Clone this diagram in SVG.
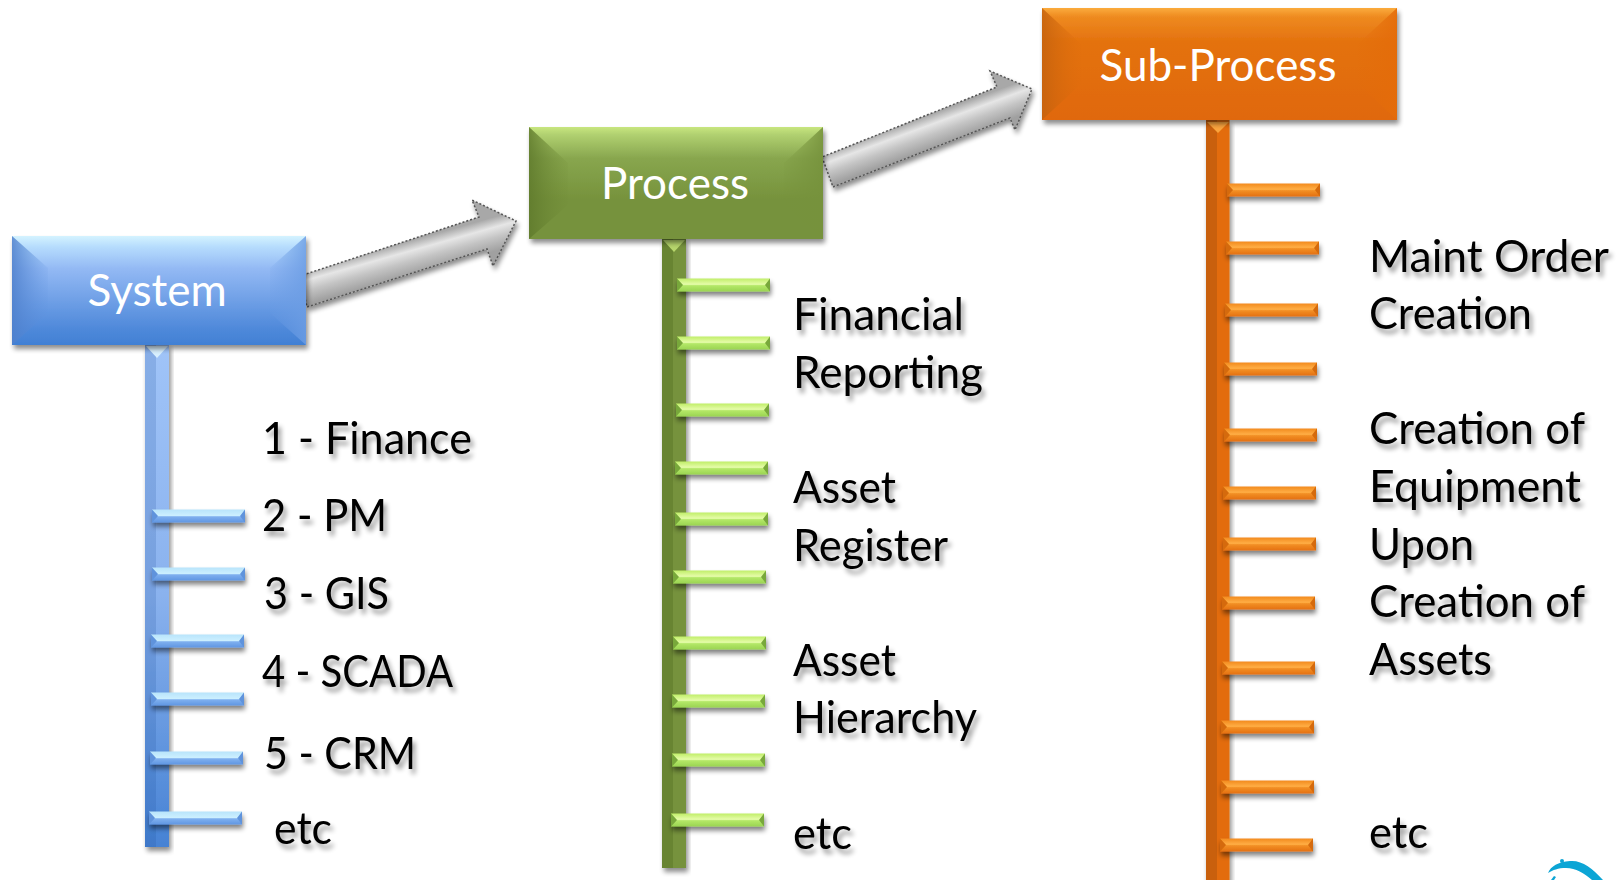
<svg xmlns="http://www.w3.org/2000/svg" width="1621" height="880" viewBox="0 0 1621 880">
<style>
.lbl{font-family:"Lato","Open Sans","Liberation Sans",sans-serif;font-size:44px;fill:#000;filter:url(#ts)}
.ttl{font-family:"Lato","Open Sans","Liberation Sans",sans-serif;font-size:44px;fill:#fff;text-anchor:middle}
.arrow{stroke:#555;stroke-width:1.5;stroke-dasharray:2 2;filter:url(#ds)}
.sh{filter:url(#ds)}
</style>
<defs>
<filter id="ds" x="-20%" y="-20%" width="140%" height="150%"><feGaussianBlur in="SourceAlpha" stdDeviation="2.5"/><feOffset dx="2" dy="4"/><feComponentTransfer><feFuncA type="linear" slope="0.45"/></feComponentTransfer><feMerge><feMergeNode/><feMergeNode in="SourceGraphic"/></feMerge></filter>
<filter id="dt" x="-30%" y="-100%" width="160%" height="350%"><feGaussianBlur in="SourceAlpha" stdDeviation="2.5"/><feOffset dx="1" dy="4"/><feComponentTransfer><feFuncA type="linear" slope="0.5"/></feComponentTransfer><feMerge><feMergeNode/><feMergeNode in="SourceGraphic"/></feMerge></filter>
<filter id="ts" x="-10%" y="-20%" width="125%" height="150%"><feGaussianBlur in="SourceAlpha" stdDeviation="2.5"/><feOffset dx="3" dy="5"/><feComponentTransfer><feFuncA type="linear" slope="0.4"/></feComponentTransfer><feMerge><feMergeNode/><feMergeNode in="SourceGraphic"/></feMerge></filter>
<linearGradient id="gArrow1" gradientUnits="userSpaceOnUse" x1="391" y1="246" x2="400" y2="278"><stop offset="0" stop-color="#a8a8a8"/><stop offset=".3" stop-color="#e6e6e6"/><stop offset=".6" stop-color="#c4c4c4"/><stop offset="1" stop-color="#a0a0a0"/></linearGradient>
<linearGradient id="gArrow2" gradientUnits="userSpaceOnUse" x1="910" y1="122" x2="921" y2="152"><stop offset="0" stop-color="#a8a8a8"/><stop offset=".3" stop-color="#e6e6e6"/><stop offset=".6" stop-color="#c4c4c4"/><stop offset="1" stop-color="#a0a0a0"/></linearGradient>
<linearGradient id="bBlue" x1="0" y1="0" x2="0" y2="1"><stop offset="0" stop-color="#d4f3ff"/><stop offset=".1" stop-color="#b6dcfd"/><stop offset=".3" stop-color="#93b9f4"/><stop offset=".85" stop-color="#4f89da"/><stop offset="1" stop-color="#4180d4"/></linearGradient>
<linearGradient id="bGreen" x1="0" y1="0" x2="0" y2="1"><stop offset="0" stop-color="#c8e67f"/><stop offset=".07" stop-color="#b0d070"/><stop offset=".28" stop-color="#88a64e"/><stop offset=".65" stop-color="#76923c"/><stop offset="1" stop-color="#76923c"/></linearGradient>
<linearGradient id="bOrange" x1="0" y1="0" x2="0" y2="1"><stop offset="0" stop-color="#fbab3c"/><stop offset=".08" stop-color="#ee8a20"/><stop offset=".3" stop-color="#e4720f"/><stop offset="1" stop-color="#e0680a"/></linearGradient>
<linearGradient id="fBlue" x1="0" x2="1" y1="0" y2="0"><stop offset="0" stop-color="#4f80cc" stop-opacity=".85"/><stop offset="1" stop-color="#5f92de" stop-opacity=".1"/></linearGradient>
<linearGradient id="fGreen" x1="0" x2="1" y1="0" y2="0"><stop offset="0" stop-color="#5f7a2c" stop-opacity=".85"/><stop offset="1" stop-color="#6f8a36" stop-opacity=".1"/></linearGradient>
<linearGradient id="fOrange" x1="0" x2="1" y1="0" y2="0"><stop offset="0" stop-color="#c4620e" stop-opacity=".85"/><stop offset="1" stop-color="#dc6c0c" stop-opacity=".1"/></linearGradient>
<linearGradient id="rBlue" x1="1" x2="0" y1="0" y2="0"><stop offset="0" stop-color="#6c9de4" stop-opacity=".85"/><stop offset="1" stop-color="#6c9de4" stop-opacity=".1"/></linearGradient>
<linearGradient id="rGreen" x1="1" x2="0" y1="0" y2="0"><stop offset="0" stop-color="#76923c" stop-opacity=".9"/><stop offset="1" stop-color="#76923c" stop-opacity=".1"/></linearGradient>
<linearGradient id="rOrange" x1="1" x2="0" y1="0" y2="0"><stop offset="0" stop-color="#e46c0a" stop-opacity=".9"/><stop offset="1" stop-color="#e46c0a" stop-opacity=".1"/></linearGradient>
<linearGradient id="sBlue" x1="0" y1="0" x2="0" y2="1"><stop offset="0" stop-color="#a0c4f8"/><stop offset=".5" stop-color="#8ab2ee"/><stop offset="1" stop-color="#4682d4"/></linearGradient>
<linearGradient id="tBlue" x1="0" y1="0" x2="0" y2="1"><stop offset="0" stop-color="#b8e4fb"/><stop offset=".5" stop-color="#cdf0ff"/><stop offset=".55" stop-color="#7fb0ef"/><stop offset="1" stop-color="#6096e2"/></linearGradient>
<linearGradient id="tGreen" x1="0" y1="0" x2="0" y2="1"><stop offset="0" stop-color="#c0ee68"/><stop offset=".45" stop-color="#e6fcaa"/><stop offset=".55" stop-color="#b4e868"/><stop offset="1" stop-color="#9ad452"/></linearGradient>
<linearGradient id="tOrange" x1="0" y1="0" x2="0" y2="1"><stop offset="0" stop-color="#f28a1e"/><stop offset=".45" stop-color="#ffae45"/><stop offset=".55" stop-color="#f28f25"/><stop offset="1" stop-color="#e4700f"/></linearGradient>
<g id="tb"><rect x="0" y="-6.5" width="93" height="13" fill="url(#tBlue)"/><path d="M0-6.5 6 0 0 6.5ZM93-6.5 88 0 93 6.5Z" fill="#5f93dc"/></g>
<g id="tg"><rect x="0" y="-6.5" width="93" height="13" fill="url(#tGreen)"/><path d="M0-6.5 6 0 0 6.5ZM93-6.5 88 0 93 6.5Z" fill="#78a83a"/></g>
<g id="to"><rect x="0" y="-6.5" width="93" height="13" fill="url(#tOrange)"/><path d="M0-6.5 6 0 0 6.5ZM93-6.5 88 0 93 6.5Z" fill="#d56a0c"/></g>
</defs>
<rect width="1621" height="880" fill="#fff"/>
<g id="connectors">
<polygon class="arrow" fill="url(#gArrow1)" points="300,276 307,307 487,249 493,266 516,221 472,200 479,217"/>
<polygon class="arrow" fill="url(#gArrow2)" points="822,157 833,187 1010,118 1015,130 1032,89 990,71 997,87"/>
<g id="ladder-system">
<g class="sh"><rect x="145" y="344" width="24" height="503" fill="url(#sBlue)"/><rect x="145" y="344" width="11" height="503" fill="#1d4f9c" opacity=".18"/><polygon points="146,346 168,346 157,358" fill="#d8effe"/></g>
<g filter="url(#dt)"><use href="#tb" x="152" y="516"/><use href="#tb" x="152" y="574"/><use href="#tb" x="151" y="641"/><use href="#tb" x="151" y="699"/><use href="#tb" x="150" y="758"/><use href="#tb" x="149" y="818"/></g>
</g>
<g id="ladder-process">
<g class="sh"><rect x="662" y="238" width="24" height="630" fill="#76923c"/><rect x="662" y="238" width="11" height="630" fill="#3f5a18" opacity=".25"/><polygon points="663,240 685,240 674,252" fill="#b6d66c"/></g>
<g filter="url(#dt)"><use href="#tg" x="677" y="285"/><use href="#tg" x="677" y="343"/><use href="#tg" x="676" y="410"/><use href="#tg" x="675" y="468"/><use href="#tg" x="675" y="519"/><use href="#tg" x="673" y="577"/><use href="#tg" x="673" y="643"/><use href="#tg" x="672" y="701"/><use href="#tg" x="672" y="760"/><use href="#tg" x="671" y="820"/></g>
</g>
<g id="ladder-subprocess">
<g class="sh"><rect x="1206" y="120" width="23.5" height="770" fill="#e36c0a"/><rect x="1206" y="120" width="11" height="770" fill="#7a3a05" opacity=".25"/><polygon points="1207,122 1229,122 1218,133" fill="#f9a33c"/></g>
<g filter="url(#dt)"><use href="#to" x="1227" y="190"/><use href="#to" x="1226" y="248"/><use href="#to" x="1225" y="310"/><use href="#to" x="1224" y="369"/><use href="#to" x="1224" y="435"/><use href="#to" x="1223" y="493"/><use href="#to" x="1223" y="544"/><use href="#to" x="1222" y="603"/><use href="#to" x="1222" y="668"/><use href="#to" x="1221" y="727"/><use href="#to" x="1221" y="787"/><use href="#to" x="1220" y="845"/></g>
</g>
</g>
<g id="system">
<g class="sh"><rect x="12" y="236" width="294" height="109" fill="url(#bBlue)"/></g>
<polygon points="12,236 48,268 48,313 12,345" fill="url(#fBlue)"/><polygon points="306,236 270,268 270,313 306,345" fill="url(#rBlue)"/>
<text class="ttl" x="157" y="306">System</text>
</g>
<g id="process">
<g class="sh"><rect x="529" y="127" width="294" height="112" fill="url(#bGreen)"/></g>
<polygon points="529,127 568,163 568,205 529,239" fill="url(#fGreen)"/><polygon points="823,127 784,163 784,205 823,239" fill="url(#rGreen)"/>
<text class="ttl" x="675" y="199">Process</text>
</g>
<g id="subprocess">
<g class="sh"><rect x="1042" y="8" width="355" height="112" fill="url(#bOrange)"/></g>
<polygon points="1042,8 1081,44 1081,84 1042,120" fill="url(#fOrange)"/><polygon points="1397,8 1358,44 1358,84 1397,120" fill="url(#rOrange)"/>
<text class="ttl" x="1218" y="81">Sub-Process</text>
</g>
<g id="labels-system">
<text class="lbl" x="262" y="454" textLength="210" lengthAdjust="spacingAndGlyphs">1 - Finance</text>
<text class="lbl" x="262" y="531" textLength="125" lengthAdjust="spacingAndGlyphs">2 - PM</text>
<text class="lbl" x="264" y="609" textLength="125" lengthAdjust="spacingAndGlyphs">3 - GIS</text>
<text class="lbl" x="262" y="687" textLength="191" lengthAdjust="spacingAndGlyphs">4 - SCADA</text>
<text class="lbl" x="264" y="769" textLength="152" lengthAdjust="spacingAndGlyphs">5 - CRM</text>
<text class="lbl" x="274" y="844" textLength="58" lengthAdjust="spacingAndGlyphs">etc</text>
</g>
<g id="labels-process">
<text class="lbl" x="793" y="330" textLength="171" lengthAdjust="spacingAndGlyphs">Financial</text>
<text class="lbl" x="793" y="388" textLength="190" lengthAdjust="spacingAndGlyphs">Reporting</text>
<text class="lbl" x="793" y="503" textLength="103" lengthAdjust="spacingAndGlyphs">Asset</text>
<text class="lbl" x="793" y="561" textLength="155" lengthAdjust="spacingAndGlyphs">Register</text>
<text class="lbl" x="793" y="676" textLength="103" lengthAdjust="spacingAndGlyphs">Asset</text>
<text class="lbl" x="793" y="733" textLength="184" lengthAdjust="spacingAndGlyphs">Hierarchy</text>
<text class="lbl" x="793" y="849" textLength="59" lengthAdjust="spacingAndGlyphs">etc</text>
</g>
<g id="labels-subprocess">
<text class="lbl" x="1369" y="272" textLength="240" lengthAdjust="spacingAndGlyphs">Maint Order</text>
<text class="lbl" x="1369" y="329" textLength="163" lengthAdjust="spacingAndGlyphs">Creation</text>
<text class="lbl" x="1369" y="444" textLength="216" lengthAdjust="spacingAndGlyphs">Creation of</text>
<text class="lbl" x="1369" y="502" textLength="212" lengthAdjust="spacingAndGlyphs">Equipment</text>
<text class="lbl" x="1369" y="560" textLength="105" lengthAdjust="spacingAndGlyphs">Upon</text>
<text class="lbl" x="1369" y="617" textLength="216" lengthAdjust="spacingAndGlyphs">Creation of</text>
<text class="lbl" x="1369" y="675" textLength="123" lengthAdjust="spacingAndGlyphs">Assets</text>
<text class="lbl" x="1369" y="848" textLength="59" lengthAdjust="spacingAndGlyphs">etc</text>
</g>
<g id="logo" fill="#0ca5d5">
<path d="M1548 873C1551 866 1558 862 1570 861C1582 860 1592 868 1603 880H1592C1584 873 1576 868 1566 868C1558 868 1553 870 1548 873Z"/>
<circle cx="1562" cy="861" r="2"/><path d="M1551 880l3-4 2 1-2 3Z"/>
</g>
</svg>
